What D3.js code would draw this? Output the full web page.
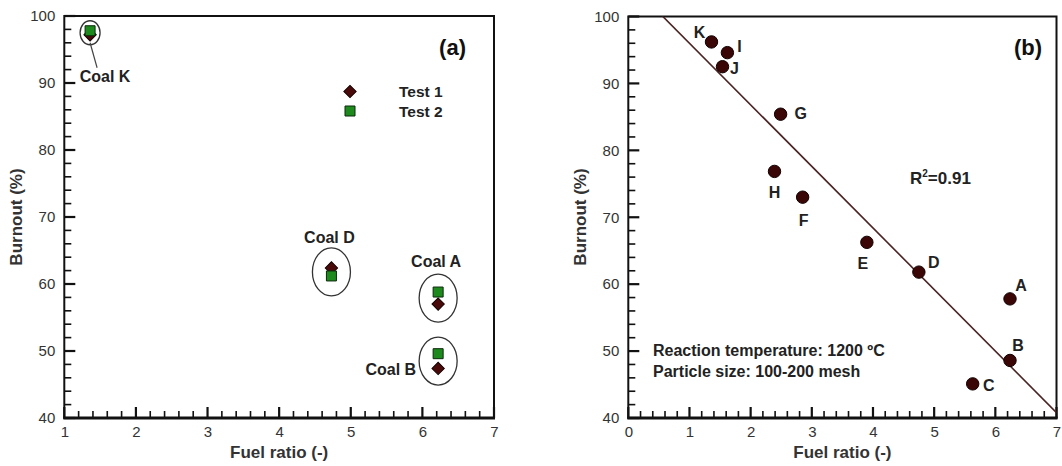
<!DOCTYPE html>
<html>
<head>
<meta charset="utf-8">
<script src="https://cdn.jsdelivr.net/npm/d3@7"></script>
</head>
<body style="margin:0;background:#fff">
<svg id="chart" width="1062" height="466" style="font-family:'Liberation Sans', Arial, sans-serif"></svg>
<script>
// ---------- Data ----------
// Panel (a)
const coalsA = ["Coal K", "Coal D", "Coal A", "Coal B"];
const fuelRatioA = [1.36, 4.73, 6.22, 6.22];
const test1Burnout = [97.2, 62.4, 57.0, 47.4];
const test2Burnout = [97.8, 61.2, 58.8, 49.6];
const legendLabels = ["Test 1", "Test 2"];

// Panel (b)
const coalsB = ["A", "B", "C", "D", "E", "F", "G", "H", "I", "J", "K"];
const fuelRatioB = [6.24, 6.24, 5.63, 4.75, 3.90, 2.85, 2.49, 2.39, 1.62, 1.54, 1.36];
const burnoutB = [57.8, 48.6, 45.1, 61.8, 66.25, 73.0, 85.4, 76.85, 94.6, 92.5, 96.2];
const fitLine = [105.2, -9.2]; // intercept, slope
const r2Value = "0.91";
const noteLines = ["Reaction temperature: 1200 \u00BAC", "Particle size: 100-200 mesh"];

// Ticks
const xTicksA = [1, 2, 3, 4, 5, 6, 7];
const xTicksB = [0, 1, 2, 3, 4, 5, 6, 7];
const yTicks = [40, 50, 60, 70, 80, 90, 100];
const xMinorA = [1.2, 1.4, 1.6, 1.8, 2.2, 2.4, 2.6, 2.8, 3.2, 3.4, 3.6, 3.8, 4.2, 4.4, 4.6, 4.8, 5.2, 5.4, 5.6, 5.8, 6.2, 6.4, 6.6, 6.8];
const xMinorB = [0.2, 0.4, 0.6, 0.8].concat(xMinorA);
const yMinor = [42, 44, 46, 48, 52, 54, 56, 58, 62, 64, 66, 68, 72, 74, 76, 78, 82, 84, 86, 88, 92, 94, 96, 98];

// ---------- Layout (not data) ----------
const labelOffsetsB = {
  A: [11, -14], B: [8, -15], C: [16, 1], D: [15, -10], E: [-4, 21], F: [1, 23],
  G: [20, -1], H: [0, 21], I: [12, -6], J: [12, 2], K: [-12, -10]
};
const coalLabelLayout = {
  "Coal K": { rx: 10, ry: 12, dx: 15, dy: 49, anchor: "middle", leader: true },
  "Coal D": { rx: 19, ry: 24, dx: -2, dy: -29, anchor: "middle" },
  "Coal A": { rx: 19, ry: 24, dx: -2, dy: -31, anchor: "middle" },
  "Coal B": { rx: 19, ry: 24, dx: -22, dy: 14, anchor: "end" }
};

const svg = d3.select("#chart");
const textColor = "#222";
const tickColor = "#333";

function drawFrame(g, x, y, xTicks, xMinor) {
  const [x0, x1] = x.range();
  const [y0, y1] = y.range();
  g.append("rect").attr("x", x0).attr("y", y1).attr("width", x1 - x0).attr("height", y0 - y1)
    .attr("fill", "none").attr("stroke", "#111").attr("stroke-width", 2);
  // inward tick marks as filled rects
  const t = g.append("g").attr("fill", "#111");
  t.selectAll("rect.xmn").data(xMinor).join("rect").attr("class", "xmn")
    .attr("x", d => x(d) - 0.8).attr("y", y0 - 7).attr("width", 1.6).attr("height", 7);
  t.selectAll("rect.xmj").data(xTicks).join("rect").attr("class", "xmj")
    .attr("x", d => x(d) - 1.1).attr("y", y0 - 11).attr("width", 2.2).attr("height", 11);
  t.selectAll("rect.ymn").data(yMinor).join("rect").attr("class", "ymn")
    .attr("x", x0).attr("y", d => y(d) - 0.8).attr("width", 7).attr("height", 1.6);
  t.selectAll("rect.ymj").data(yTicks).join("rect").attr("class", "ymj")
    .attr("x", x0).attr("y", d => y(d) - 1.1).attr("width", 11).attr("height", 2.2);
  g.append("line").attr("x1", x0 - 1).attr("x2", x1 + 1).attr("y1", y0).attr("y2", y0)
    .attr("stroke", "#111").attr("stroke-width", 3);
  // Tick labels
  g.append("g").attr("transform", `translate(0,${y0})`)
    .call(d3.axisBottom(x).tickValues(xTicks).tickSize(0).tickPadding(10).tickFormat(d3.format("d")))
    .call(a => a.select(".domain").remove())
    .call(a => a.selectAll("text").attr("fill", tickColor).attr("font-size", 15)
      .attr("font-family", "Liberation Sans, Arial, sans-serif").attr("dy", "0.6em"));
  g.append("g").attr("transform", `translate(${x0},0)`)
    .call(d3.axisLeft(y).tickValues(yTicks).tickSize(0).tickPadding(9).tickFormat(d3.format("d")))
    .call(a => a.select(".domain").remove())
    .call(a => a.selectAll("text").attr("fill", tickColor).attr("font-size", 15)
      .attr("font-family", "Liberation Sans, Arial, sans-serif"));
  g.append("text").attr("x", (x0 + x1) / 2).attr("y", 458).attr("text-anchor", "middle")
    .attr("font-size", 17).attr("font-weight", "bold").attr("fill", "#333").text("Fuel ratio (-)");
}

// ---------- Panel (a) ----------
const xA = d3.scaleLinear().domain([1, 7]).range([64.3, 494]);
const yA = d3.scaleLinear().domain([40, 100]).range([418, 16]);
const gA = svg.append("g");
drawFrame(gA, xA, yA, xTicksA, xMinorA);
gA.append("text").attr("transform", `translate(22,${(418 + 16) / 2}) rotate(-90)`)
  .attr("text-anchor", "middle").attr("font-size", 17).attr("font-weight", "bold").attr("fill", "#333")
  .text("Burnout (%)");

const diamond = d3.symbol().type(d3.symbolSquare).size(76);
const square = d3.symbol().type(d3.symbolSquare).size(100);
const diamondFill = "#4a0a0a", squareFill = "#1e8a1e";

coalsA.forEach((name, i) => {
  const L = coalLabelLayout[name];
  const cx = xA(fuelRatioA[i]);
  const cy = yA((test1Burnout[i] + test2Burnout[i]) / 2);
  gA.append("ellipse").attr("cx", cx).attr("cy", cy).attr("rx", L.rx).attr("ry", L.ry)
    .attr("fill", "none").attr("stroke", "#333").attr("stroke-width", 1.3);
  if (L.leader) {
    gA.append("line").attr("x1", cx).attr("y1", cy + L.ry - 2).attr("x2", cx + 7).attr("y2", cy + L.dy - 14)
      .attr("stroke", "#444").attr("stroke-width", 1.2);
  }
  gA.append("text").attr("x", cx + L.dx).attr("y", cy + L.dy).attr("text-anchor", L.anchor)
    .attr("font-size", 16).attr("font-weight", "bold").attr("fill", textColor).text(name);
});

gA.selectAll("path.t1").data(coalsA).join("path").attr("class", "t1")
  .attr("d", diamond)
  .attr("transform", (d, i) => `translate(${xA(fuelRatioA[i])},${yA(test1Burnout[i])}) rotate(45)`)
  .attr("fill", diamondFill).attr("stroke", "#150000").attr("stroke-width", 1);
gA.selectAll("path.t2").data(coalsA).join("path").attr("class", "t2")
  .attr("d", square)
  .attr("transform", (d, i) => `translate(${xA(fuelRatioA[i])},${yA(test2Burnout[i])})`)
  .attr("fill", squareFill).attr("stroke", "#0a2a0a").attr("stroke-width", 1);

// legend
const legX = 350, legY = [91.5, 111];
gA.append("path").attr("d", diamond).attr("transform", `translate(${legX},${legY[0]}) rotate(45)`)
  .attr("fill", diamondFill).attr("stroke", "#150000");
gA.append("path").attr("d", square).attr("transform", `translate(${legX},${legY[1]})`)
  .attr("fill", squareFill).attr("stroke", "#0a2a0a");
legendLabels.forEach((t, i) => {
  gA.append("text").attr("x", 399).attr("y", legY[i] + 5.5).attr("font-size", 15.5)
    .attr("font-weight", "bold").attr("fill", textColor).text(t);
});
gA.append("text").attr("x", 466).attr("y", 55).attr("text-anchor", "end")
  .attr("font-size", 22).attr("font-weight", "bold").attr("fill", "#111").text("(a)");

// ---------- Panel (b) ----------
const xB = d3.scaleLinear().domain([0, 7]).range([628.3, 1056.5]);
const yB = d3.scaleLinear().domain([40, 100]).range([418, 16.5]);
const gB = svg.append("g");
drawFrame(gB, xB, yB, xTicksB, xMinorB);
gB.append("text").attr("transform", `translate(586,${(418 + 16) / 2}) rotate(-90)`)
  .attr("text-anchor", "middle").attr("font-size", 17).attr("font-weight", "bold").attr("fill", "#333")
  .text("Burnout (%)");

svg.append("clipPath").attr("id", "clipB").append("rect")
  .attr("x", 628.3).attr("y", 16.5).attr("width", 1056.5 - 628.3).attr("height", 418 - 16.5);
const fitFn = v => fitLine[0] + fitLine[1] * v;
gB.append("path").attr("clip-path", "url(#clipB)")
  .attr("d", d3.line().x(d => xB(d)).y(d => yB(fitFn(d)))([0, 7]))
  .attr("stroke", "#4a2323").attr("stroke-width", 1.6).attr("fill", "none");

gB.selectAll("circle.pt").data(coalsB).join("circle").attr("class", "pt")
  .attr("cx", (d, i) => xB(fuelRatioB[i])).attr("cy", (d, i) => yB(burnoutB[i])).attr("r", 6.2)
  .attr("fill", "#3a0606").attr("stroke", "#120000").attr("stroke-width", 1);
gB.selectAll("text.lbl").data(coalsB).join("text").attr("class", "lbl")
  .attr("x", (d, i) => xB(fuelRatioB[i]) + labelOffsetsB[d][0])
  .attr("y", (d, i) => yB(burnoutB[i]) + labelOffsetsB[d][1])
  .attr("dy", "0.36em").attr("text-anchor", "middle")
  .attr("font-size", 16).attr("font-weight", "bold").attr("fill", textColor).text(d => d);

gB.append("text").attr("x", 1042).attr("y", 55).attr("text-anchor", "end")
  .attr("font-size", 22).attr("font-weight", "bold").attr("fill", "#111").text("(b)");

const r2 = gB.append("text").attr("x", 910).attr("y", 184).attr("font-size", 17)
  .attr("font-weight", "bold").attr("fill", textColor);
r2.append("tspan").text("R");
r2.append("tspan").attr("dy", -7).attr("font-size", 10).text("2");
r2.append("tspan").attr("dy", 7).text("=" + r2Value);

noteLines.forEach((t, i) => {
  gB.append("text").attr("x", 653).attr("y", 356 + i * 21).attr("font-size", 16)
    .attr("font-weight", "bold").attr("fill", textColor).text(t);
});
</script>
</body>
</html>
